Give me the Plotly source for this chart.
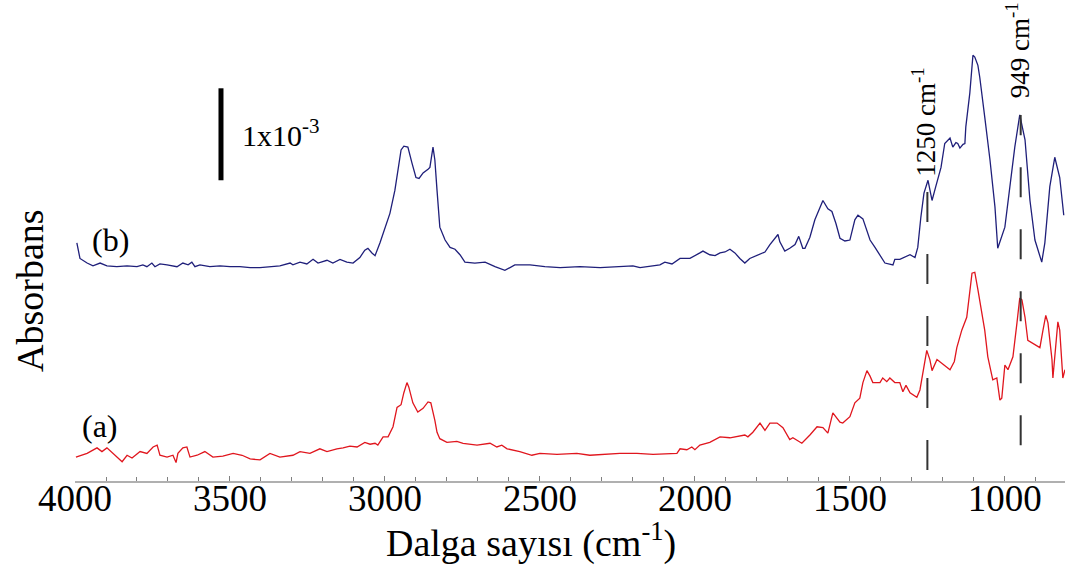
import plotly.graph_objects as go

# Spectrum (b) - wavenumber (cm-1) and absorbance (x10^-3, offset)
wn_b = [3994, 3984, 3961, 3942, 3919, 3897, 3865, 3832, 3800, 3781, 3768, 3752, 3742, 3726, 3703,
        3671, 3652, 3635, 3623, 3613, 3597, 3565, 3532, 3500, 3468, 3435, 3403, 3371, 3339, 3306,
        3297, 3274, 3252, 3232, 3216, 3187, 3168, 3145, 3123, 3103, 3081, 3065, 3055, 3042, 3032,
        3016, 3000, 2984, 2968, 2958, 2948, 2939, 2926, 2913, 2900, 2890, 2877, 2861, 2855, 2845,
        2839, 2832, 2823, 2806, 2790, 2774, 2758, 2742, 2710, 2677, 2645, 2613, 2581, 2532, 2484,
        2435, 2371, 2306, 2242, 2200, 2177, 2113, 2097, 2074, 2048, 2016, 1984, 1974, 1952, 1935,
        1919, 1903, 1887, 1871, 1855, 1839, 1823, 1790, 1774, 1758, 1732, 1726, 1710, 1694, 1677,
        1665, 1652, 1645, 1629, 1613, 1597, 1587, 1571, 1558, 1545, 1532, 1516, 1500, 1484, 1474,
        1458, 1448, 1435, 1419, 1403, 1387, 1361, 1355, 1339, 1323, 1306, 1290, 1281, 1271, 1261,
        1248, 1235, 1223, 1206, 1194, 1177, 1168, 1158, 1152, 1145, 1135, 1129, 1126, 1113, 1103,
        1097, 1087, 1081, 1065, 1048, 1032, 1023, 1000, 984, 968, 952, 935, 919, 903, 881,
        871, 855, 839, 823, 810]
abs_b = [2.59, 2.42, 2.37, 2.34, 2.37, 2.34, 2.33, 2.34, 2.33, 2.35, 2.33, 2.37, 2.33, 2.36, 2.35,
         2.33, 2.37, 2.35, 2.38, 2.33, 2.35, 2.33, 2.34, 2.33, 2.33, 2.32, 2.32, 2.33, 2.34, 2.37,
         2.35, 2.38, 2.36, 2.41, 2.37, 2.40, 2.37, 2.41, 2.38, 2.37, 2.43, 2.51, 2.53, 2.48, 2.45,
         2.59, 2.76, 2.91, 3.16, 3.41, 3.60, 3.64, 3.63, 3.46, 3.30, 3.29, 3.35, 3.39, 3.41, 3.63,
         3.49, 3.16, 2.76, 2.62, 2.54, 2.52, 2.46, 2.38, 2.37, 2.38, 2.33, 2.29, 2.35, 2.35, 2.33,
         2.32, 2.33, 2.32, 2.33, 2.34, 2.32, 2.35, 2.38, 2.36, 2.42, 2.42, 2.48, 2.50, 2.46, 2.45,
         2.48, 2.49, 2.52, 2.48, 2.42, 2.37, 2.42, 2.47, 2.49, 2.57, 2.68, 2.60, 2.50, 2.53, 2.57,
         2.66, 2.53, 2.53, 2.65, 2.84, 2.98, 3.05, 2.96, 2.93, 2.80, 2.64, 2.61, 2.62, 2.84, 2.89,
         2.85, 2.76, 2.62, 2.54, 2.46, 2.37, 2.35, 2.41, 2.41, 2.43, 2.46, 2.43, 2.54, 2.87, 3.13,
         3.27, 3.05, 3.20, 3.41, 3.67, 3.73, 3.63, 3.68, 3.67, 3.62, 3.66, 3.67, 3.85, 4.22, 4.63,
         4.61, 4.52, 4.39, 3.96, 3.49, 2.98, 2.53, 2.76, 3.20, 3.63, 3.98, 3.71, 3.05, 2.62, 2.38,
         2.59, 3.20, 3.52, 3.30, 2.89]

# Spectrum (a)
wn_a = [3997, 3961, 3929, 3913, 3897, 3877, 3848, 3832, 3816, 3790, 3768, 3748, 3735, 3726, 3703,
        3684, 3674, 3668, 3652, 3639, 3629, 3606, 3581, 3555, 3523, 3490, 3461, 3435, 3403, 3371,
        3339, 3297, 3274, 3242, 3210, 3187, 3155, 3135, 3113, 3090, 3065, 3048, 3032, 3023, 3006,
        2990, 2974, 2961, 2948, 2939, 2929, 2923, 2910, 2894, 2877, 2861, 2852, 2839, 2832, 2823,
        2800, 2768, 2748, 2703, 2661, 2639, 2623, 2606, 2565, 2526, 2500, 2445, 2381, 2339, 2284,
        2242, 2187, 2135, 2058, 2048, 2026, 2010, 2000, 1984, 1952, 1919, 1887, 1855, 1839, 1829,
        1813, 1790, 1774, 1758, 1735, 1716, 1694, 1684, 1655, 1629, 1606, 1587, 1571, 1555, 1532,
        1523, 1500, 1484, 1468, 1458, 1445, 1435, 1426, 1403, 1394, 1381, 1371, 1355, 1339, 1329,
        1319, 1306, 1284, 1274, 1261, 1252, 1242, 1235, 1219, 1194, 1177, 1163, 1155, 1139, 1123,
        1106, 1097, 1087, 1065, 1055, 1039, 1026, 1016, 1010, 1000, 990, 974, 961, 952, 945,
        935, 926, 910, 887, 877, 868, 861, 848, 845, 832, 829, 823, 813, 806]
abs_a = [0.26, 0.30, 0.36, 0.32, 0.36, 0.30, 0.21, 0.28, 0.25, 0.32, 0.30, 0.37, 0.39, 0.28, 0.26,
         0.28, 0.20, 0.30, 0.36, 0.37, 0.26, 0.28, 0.32, 0.26, 0.27, 0.30, 0.28, 0.24, 0.23, 0.30,
         0.26, 0.28, 0.32, 0.30, 0.35, 0.32, 0.35, 0.36, 0.38, 0.37, 0.42, 0.40, 0.41, 0.39, 0.48,
         0.48, 0.59, 0.80, 0.83, 0.96, 1.07, 1.02, 0.85, 0.75, 0.79, 0.86, 0.85, 0.66, 0.53, 0.46,
         0.42, 0.43, 0.41, 0.39, 0.41, 0.37, 0.39, 0.35, 0.32, 0.28, 0.30, 0.29, 0.30, 0.28, 0.29,
         0.30, 0.30, 0.29, 0.30, 0.35, 0.34, 0.37, 0.34, 0.39, 0.42, 0.48, 0.47, 0.49, 0.50, 0.48,
         0.53, 0.63, 0.55, 0.63, 0.63, 0.58, 0.45, 0.47, 0.41, 0.50, 0.59, 0.58, 0.52, 0.74, 0.64,
         0.63, 0.70, 0.85, 0.90, 1.07, 1.20, 1.14, 1.07, 1.07, 1.12, 1.08, 1.12, 1.07, 1.07, 0.97,
         1.04, 0.96, 0.91, 0.99, 1.26, 1.42, 1.32, 1.20, 1.32, 1.26, 1.21, 1.30, 1.45, 1.64, 1.78,
         2.26, 2.27, 2.08, 1.64, 1.35, 1.10, 1.12, 0.88, 0.90, 1.26, 1.21, 1.35, 1.72, 1.99, 1.97,
         1.78, 1.53, 1.50, 1.45, 1.64, 1.80, 1.72, 1.32, 1.12, 1.61, 1.73, 1.64, 1.12, 1.21]

x_range = [4000, 806]
y_range = [0, 5.23]
tick_vals = [4000, 3500, 3000, 2500, 2000, 1500, 1000]
marked_peaks = [1250, 949]
peak_labels = ["1250 cm<sup>-1</sup>", "949 cm<sup>-1</sup>"]
peak_line_spans = [(0.12, 3.20), (0.39, 3.98)]
peak_label_y = [3.91, 4.68]
scale_bar_x = 3529
scale_bar_span = (3.27, 4.27)

FONT = "Liberation Serif"

fig = go.Figure()
fig.add_trace(go.Scatter(x=wn_b, y=abs_b, mode="lines",
                         line=dict(color="#1f1f7a", width=1.3), showlegend=False))
fig.add_trace(go.Scatter(x=wn_a, y=abs_a, mode="lines",
                         line=dict(color="#e0161e", width=1.3), showlegend=False))

for xp, (y0, y1) in zip(marked_peaks, peak_line_spans):
    fig.add_shape(type="line", x0=xp, x1=xp, y0=y0, y1=y1, xref="x", yref="y",
                  line=dict(color="#333333", width=2, dash="30px,32px"))

fig.add_shape(type="line", x0=scale_bar_x, x1=scale_bar_x, y0=scale_bar_span[0], y1=scale_bar_span[1],
              xref="x", yref="y", line=dict(color="black", width=5))

annots = [
    dict(x=3468, y=3.78, text="1x10<sup>-3</sup>", xanchor="left", yanchor="middle",
         showarrow=False, font=dict(family=FONT, size=30, color="black")),
    dict(x=3887, y=2.62, text="(b)", xanchor="center", yanchor="middle",
         showarrow=False, font=dict(family=FONT, size=32, color="black")),
    dict(x=3919, y=0.60, text="(a)", xanchor="center", yanchor="middle",
         showarrow=False, font=dict(family=FONT, size=32, color="black")),
    dict(xref="paper", yref="paper", x=(30 - 75) / 990, y=(481 - 291) / 481, text="Absorbans",
         textangle=-90, xanchor="center", yanchor="middle", showarrow=False,
         font=dict(family=FONT, size=38, color="black")),
    dict(xref="paper", yref="paper", x=(531 - 75) / 990, y=(481 - 540) / 481,
         text="Dalga sayısı (cm<sup>-1</sup>)", xanchor="center", yanchor="middle",
         showarrow=False, font=dict(family=FONT, size=38, color="black")),
]
for xp, lab, yl in zip(marked_peaks, peak_labels, peak_label_y):
    annots.append(dict(x=xp, y=yl, text=lab, textangle=-90, xanchor="center", yanchor="middle",
                       xshift=-3, showarrow=False, font=dict(family=FONT, size=27, color="black")))

fig.update_layout(
    width=1065, height=565,
    margin=dict(l=75, r=0, t=0, b=84),
    paper_bgcolor="white", plot_bgcolor="white",
    annotations=annots,
    xaxis=dict(range=x_range, showgrid=False, zeroline=False, automargin=False,
               showline=True, linecolor="#b0b0b0", linewidth=2,
               tickmode="array", tickvals=tick_vals,
               ticks="inside", ticklen=5, tickwidth=1, tickcolor="#808080",
               ticklabelstandoff=-16,
               minor=dict(dtick=100, ticks="inside", ticklen=4, tickcolor="#808080", showgrid=False),
               tickfont=dict(family=FONT, size=37, color="black")),
    yaxis=dict(range=y_range, visible=False, automargin=False),
)

fig.write_html("out.html", config={"displayModeBar": False},
               post_script="document.body.style.margin='0px';document.body.style.overflow='hidden';")
